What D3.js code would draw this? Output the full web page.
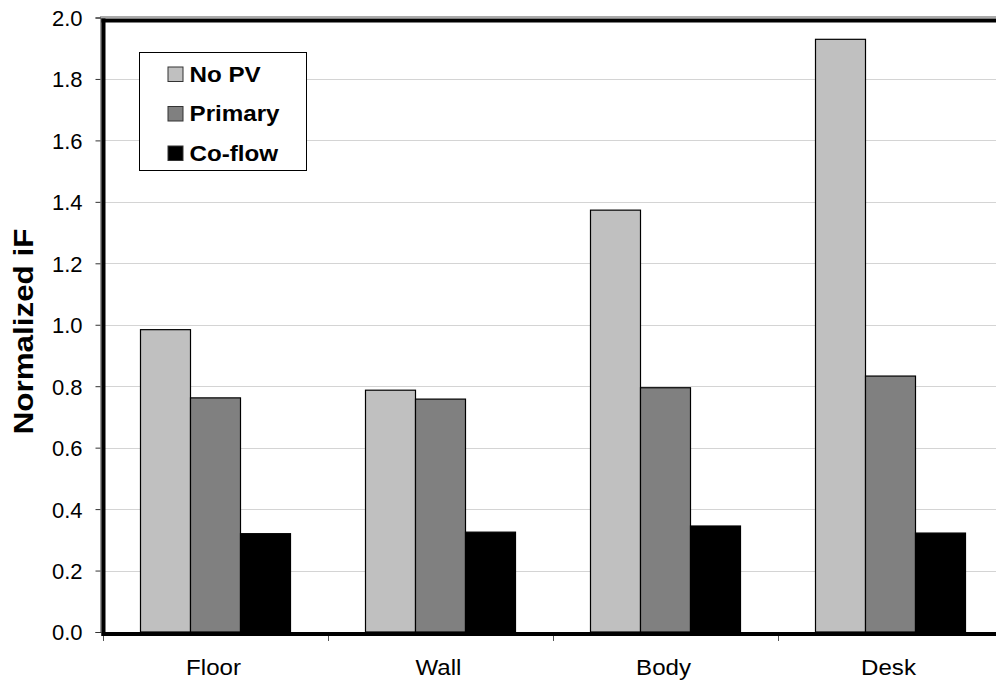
<!DOCTYPE html>
<html>
<head>
<meta charset="utf-8">
<script src="https://cdn.jsdelivr.net/npm/d3@7"></script>
<style>
  html, body { margin: 0; padding: 0; background: #fff; }
  svg { display: block; font-family: "Liberation Sans", Arial, sans-serif; }
</style>
</head>
<body>
<svg id="chart" width="996" height="681"></svg>
<script>
// Normalized intake fraction by source location and ventilation case
const categories = ["Floor", "Wall", "Body", "Desk"];
const seriesNames = ["No PV", "Primary", "Co-flow"];
const noPV    = [0.984, 0.787, 1.373, 1.929];
const primary = [0.762, 0.758, 0.795, 0.833];
const coflow  = [0.320, 0.325, 0.345, 0.322];
const yTicks  = [0.0, 0.2, 0.4, 0.6, 0.8, 1.0, 1.2, 1.4, 1.6, 1.8, 2.0];
const yTitle  = "Normalized iF";

const seriesValues = [noPV, primary, coflow];
const colors = ["#c0c0c0", "#808080", "#000000"];

const svg = d3.select("#chart");
const plotLeft = 103, plotRight = 1003, plotTop = 17.5, plotBottom = 632;

const y = d3.scaleLinear().domain([0, 2]).range([plotBottom, plotTop]);
const x0 = d3.scaleBand().domain(categories).range([plotLeft, plotRight]);
const x1 = d3.scaleBand().domain(seriesNames).range([37.5, 187.5]);

// horizontal gridlines
svg.append("g")
  .selectAll("line")
  .data(yTicks.filter(t => t > 0 && t < 2))
  .join("line")
  .attr("x1", 105).attr("x2", 996)
  .attr("y1", d => Math.round(y(d)) + 0.5)
  .attr("y2", d => Math.round(y(d)) + 0.5)
  .attr("stroke", "#d4d4d4").attr("stroke-width", 1.2);

// y axis (thin line with outward ticks)
const yAxis = d3.axisLeft(y).tickValues(yTicks).tickFormat(d3.format(".1f"))
  .tickSize(5).tickPadding(13);
const gy = svg.append("g").attr("transform", "translate(100.5,0)").call(yAxis);
gy.select(".domain").attr("stroke", "#333").attr("stroke-width", 1);
gy.selectAll(".tick line").attr("stroke", "#333");
gy.selectAll(".tick text").attr("font-size", 22).attr("fill", "#000").attr("dy", "0.36em");

// thin top line
svg.append("line").attr("x1", 100).attr("x2", 996)
  .attr("y1", 17).attr("y2", 17).attr("stroke", "#555").attr("stroke-width", 1);

// bars
const groups = svg.append("g").selectAll("g")
  .data(categories)
  .join("g")
  .attr("transform", d => `translate(${x0(d)},0)`);

groups.selectAll("rect")
  .data((c, i) => seriesNames.map((s, j) => ({ s, v: seriesValues[j][i], j })))
  .join("rect")
  .attr("x", d => x1(d.s))
  .attr("width", x1.bandwidth())
  .attr("y", d => y(d.v))
  .attr("height", d => y(0) - y(d.v))
  .attr("fill", d => colors[d.j])
  .attr("stroke", "#000").attr("stroke-width", 1.2);

// heavy plot-area frame (left, top, bottom)
const frame = svg.append("g").attr("stroke", "#000").attr("stroke-width", 4).attr("fill", "none");
frame.append("line").attr("x1", 103.5).attr("x2", 103.5).attr("y1", 18.5).attr("y2", 636);
frame.append("line").attr("x1", 101.5).attr("x2", 996).attr("y1", 20.5).attr("y2", 20.5);
frame.append("line").attr("x1", 101.5).attr("x2", 996).attr("y1", 634).attr("y2", 634);

// x axis: category ticks below the frame and labels
const xTickPos = categories.map(c => x0(c));
svg.append("g").selectAll("line")
  .data(xTickPos)
  .join("line")
  .attr("x1", d => d + 0.5).attr("x2", d => d + 0.5)
  .attr("y1", 636).attr("y2", 641)
  .attr("stroke", "#555");

svg.append("g").selectAll("text")
  .data(categories)
  .join("text")
  .attr("transform", d => `translate(${x0(d) + x0.bandwidth() / 2 - 2},675) scale(1.07,1)`)
  .attr("text-anchor", "middle")
  .attr("font-size", 22.5)
  .text(d => d);

// y axis title
svg.append("text")
  .attr("transform", `translate(33,331.5) rotate(-90) scale(1.12,1)`)
  .attr("text-anchor", "middle")
  .attr("font-size", 28).attr("font-weight", "bold")
  .text(yTitle);

// legend
const lg = svg.append("g");
lg.append("rect").attr("x", 139.5).attr("y", 52.5).attr("width", 167).attr("height", 118)
  .attr("fill", "#fff").attr("stroke", "#000").attr("stroke-width", 1);
const rowBase = [81.5, 121, 160.5];
seriesNames.forEach((s, i) => {
  lg.append("rect").attr("x", 168).attr("y", rowBase[i] - 14.5).attr("width", 15).attr("height", 14.5)
    .attr("fill", colors[i]).attr("stroke", "#333").attr("stroke-width", 1);
  lg.append("text").attr("transform", `translate(189.5,${rowBase[i]}) scale(1.1,1)`)
    .attr("font-size", 22).attr("font-weight", "bold").text(s);
});
</script>
</body>
</html>
